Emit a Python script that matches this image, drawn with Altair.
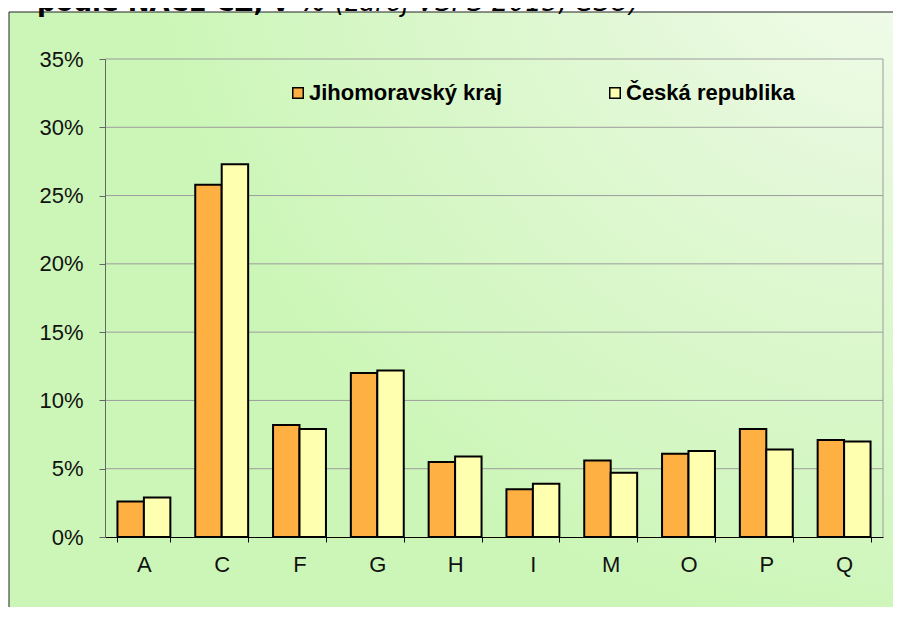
import altair as alt
import pandas as pd

categories = ["A", "C", "F", "G", "H", "I", "M", "O", "P", "Q"]
jmk = [2.6, 25.8, 8.2, 12.0, 5.5, 3.5, 5.6, 6.1, 7.9, 7.1]
cr = [2.9, 27.3, 7.9, 12.2, 5.9, 3.9, 4.7, 6.3, 6.4, 7.0]
series = ["Jihomoravský kraj", "Česká republika"]
colors = ["#FFB043", "#FFFFB0"]
y_ticks = [0, 5, 10, 15, 20, 25, 30, 35]
title_bold = ["podle NACE CZ, v %"]
title_italic = ["(zdroj VŠPS 2015, ČSÚ)"]

rows = []
for i, c in enumerate(categories):
    rows.append({"cat": c, "series": series[0], "value": jmk[i]})
    rows.append({"cat": c, "series": series[1], "value": cr[i]})
df = pd.DataFrame(rows)

W, H = 778, 478
FONT = "Liberation Sans"

yscale = alt.Scale(domain=[0, 35], nice=False)

bg = alt.Chart(pd.DataFrame({"bg": [0]})).mark_rect(
    fill=alt.RadialGradient(
        gradient="radial",
        x1=1, y1=0, r1=0, x2=1, y2=0, r2=0.85,
        stops=[alt.GradientStop(color="#F8FDF4", offset=0),
               alt.GradientStop(color="#E2F8D6", offset=0.45),
               alt.GradientStop(color="#CCF6B8", offset=1)],
    ),
    stroke="#222222", strokeWidth=1,
).encode(x=alt.value(-96), x2=alt.value(820), y=alt.value(-47), y2=alt.value(580))

grid = alt.Chart(pd.DataFrame({"tick": y_ticks[1:]})).mark_rule(
    color="#9c9c9c", strokeWidth=1
).encode(y=alt.Y("tick:Q", scale=yscale, title=None))

border = alt.Chart(pd.DataFrame({"b": [0]})).mark_rule(
    color="#9c9c9c", strokeWidth=1
).encode(x=alt.value(W), y=alt.value(0), y2=alt.value(H))

bars = alt.Chart(df).mark_bar(stroke="black", strokeWidth=2).encode(
    x=alt.X("cat:N", sort=categories, title=None,
            scale=alt.Scale(paddingInner=0.32, paddingOuter=0.16),
            axis=alt.Axis(labelAngle=0, tickBand="extent", tickSize=5,
                          tickColor="black", domainColor="black",
                          labelPadding=12, labelFontSize=22, labelFont=FONT,
                          labelColor="#111111", zindex=1, grid=False)),
    xOffset=alt.XOffset("series:N", sort=series),
    y=alt.Y("value:Q", scale=yscale, title=None,
            axis=alt.Axis(values=y_ticks, labelExpr="datum.value + '%'",
                          tickSize=6, tickColor="#666666", domainColor="#666666",
                          labelPadding=16, labelFontSize=22, labelFont=FONT,
                          labelColor="#111111", zindex=1, grid=False)),
    color=alt.Color("series:N", sort=series,
                    scale=alt.Scale(domain=series, range=colors),
                    legend=alt.Legend(title=None, orient="none", legendX=182, legendY=23,
                                      direction="horizontal", columns=2,
                                      columnPadding=101, symbolType="square",
                                      symbolSize=110, symbolStrokeColor="black",
                                      symbolStrokeWidth=1.5, labelFont=FONT,
                                      labelFontSize=22, labelFontWeight="bold",
                                      labelColor="black", labelOffset=0,
                                      labelLimit=400)),
)

t1 = alt.Chart(pd.DataFrame({"t": title_bold})).mark_text(
    font="DejaVu Sans", fontSize=26, fontWeight="bold", align="left",
    baseline="alphabetic", color="black"
).encode(text="t:N", x=alt.value(-68), y=alt.value(-48))

t2 = alt.Chart(pd.DataFrame({"t": title_italic})).mark_text(
    font="DejaVu Sans", fontSize=26, fontStyle="italic", align="left",
    baseline="alphabetic", color="black"
).encode(text="t:N", x=alt.value(230), y=alt.value(-48))

chart = alt.layer(bg, grid, border, bars, t1, t2).properties(
    width=W, height=H,
    autosize=alt.AutoSizeParams(type="none"),
    padding={"left": 97, "top": 51, "right": 10, "bottom": 70},
).configure_view(stroke=None)

chart.save("out.html", embed_options={"renderer": "svg", "actions": False})
